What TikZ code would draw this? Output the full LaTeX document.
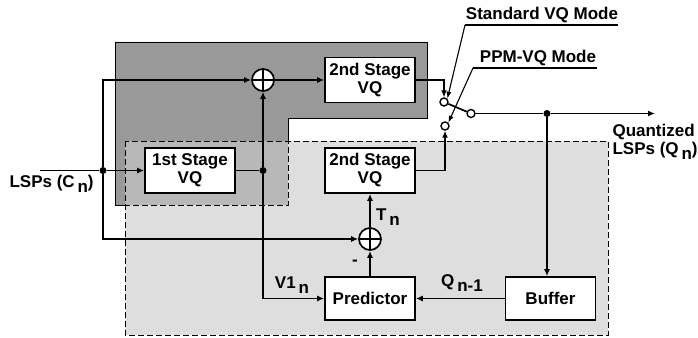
\documentclass[tikz,border=0pt]{standalone}
\usepackage{fontspec}
\setmainfont{Liberation Sans}
\usetikzlibrary{arrows.meta}
\newcommand{\lsub}[1]{\,\raisebox{-0.6ex}{#1}}

\begin{document}
\begin{tikzpicture}[
    x=10pt, y=-10pt,
    every node/.style={font=\fontsize{17}{18}\selectfont\bfseries},
    block/.style={draw, fill=white, line width=1.7pt, align=center, minimum width=90pt, minimum height=45pt, inner sep=2pt},
    adder/.style={draw, circle, fill=white, line width=1.7pt, minimum size=22pt, inner sep=0pt,
        path picture={\draw[line width=1.5pt] (path picture bounding box.north) -- (path picture bounding box.south)
            (path picture bounding box.west) -- (path picture bounding box.east);}},
    contact/.style={draw, circle, fill=white, line width=1.4pt, minimum size=8pt, inner sep=0pt},
    junc/.style={circle, fill=black, minimum size=7pt, inner sep=0pt},
    sig/.style={line width=1.7pt},
    arr/.style={sig, -{Latex[length=7pt, width=6pt]}},
    lead/.style={line width=1.1pt, -{Latex[length=7pt, width=5pt]}},
    zone/.style={line width=0.9pt},
    zonedash/.style={zone, dash pattern=on 6pt off 3pt}
]
    \useasboundingbox (0,0) rectangle (69.8,33.7);

    \draw[zone, fill=black!40] (11.5,4.2) -- (42.7,4.2) -- (42.7,11.8) -- (28.8,11.8) -- (28.8,20.5) -- (11.5,20.5) -- cycle;
    \fill[black!13] (12.5,14.1) rectangle (60.8,33.5);
    \fill[black!28] (12.5,14.1) rectangle (28.8,20.5);
    \draw[zonedash] (12.5,14.1) rectangle (28.8,20.5);
    \draw[zonedash] (12.5,14.1) rectangle (60.8,33.5);

    \node[block] (vq1) at (19,17.05) {1st Stage\\VQ};
    \node[block] (vq2a) at (37,8) {2nd Stage\\VQ};
    \node[block] (vq2b) at (37,17.05) {2nd Stage\\VQ};
    \node[block, minimum height=43pt] (pred) at (37,29.85) {Predictor};
    \node[block, minimum height=43pt] (buf) at (55.05,29.85) {Buffer};
    \node[adder] (sumA) at (26.3,8) {};
    \node[adder] (sumB) at (37,23.9) {};
    \node[contact] (cUp) at (44.4,10.2) {};
    \node[contact] (cLo) at (44.5,12.6) {};
    \node[contact] (pole) at (47.1,11.35) {};
    \node[junc] (jIn) at (10.3,17.05) {};
    \node[junc] (jV1) at (26.3,17.05) {};
    \node[junc] (jOut) at (54.7,11.35) {};
    \coordinate (cIn) at (4,17.05);
    \coordinate (qOut) at (65.5,11.35);

    \node[anchor=west] (lspIn) at (0.6,18.4) {LSPs (C\lsub{n})};
    \node[anchor=west, align=left] (lspOut) at (60.9,14.2) {Quantized\\LSPs (Q\lsub{n})};
    \node (v1lbl) at (29.2,28.5) {V1\lsub{n}};
    \node (qlbl) at (46.2,28.3) {Q\lsub{n-1}};
    \node (tlbl) at (38.8,21.7) {T\lsub{n}};
    \node (minus) at (35.5,26.3) {-};
    \node (stdMode) at (54.2,1.5) {Standard VQ Mode};
    \node (ppmMode) at (53.8,5.8) {PPM-VQ Mode};
    \coordinate (stdL) at (46.5,2.5);
    \coordinate (stdR) at (61.8,2.5);
    \coordinate (ppmL) at (47.3,6.8);
    \coordinate (ppmR) at (59.7,6.8);

    \draw[line width=1.1pt] (stdL) -- (stdR);
    \draw[line width=1.1pt] (ppmL) -- (ppmR);
    \draw[lead] (stdL) -- (cUp.north east);
    \draw[lead] (ppmL) -- (cLo.north east);

    \draw[sig] (cIn) -- (jIn);
    \draw[arr] (jIn) -- (vq1);
    \draw[arr] (jIn) |- (sumA);
    \draw[arr] (jIn) |- (sumB);
    \draw[sig] (vq1) -- (jV1);
    \draw[arr] (jV1) -- (sumA);
    \draw[arr] (jV1) |- (pred);
    \draw[arr] (sumA) -- (vq2a);
    \draw[arr] (vq2a) -| (cUp);
    \draw[arr] (vq2b) -| (cLo);
    \draw[sig] (cUp) -- (pole);
    \draw[sig] (pole) -- (jOut);
    \draw[arr] (jOut) -- (qOut);
    \draw[arr] (jOut) -- (buf.north -| jOut);
    \draw[arr] (buf) -- (pred);
    \draw[arr] (pred) -- (sumB);
    \draw[arr] (sumB) -- (vq2b);
\end{tikzpicture}
\end{document}
